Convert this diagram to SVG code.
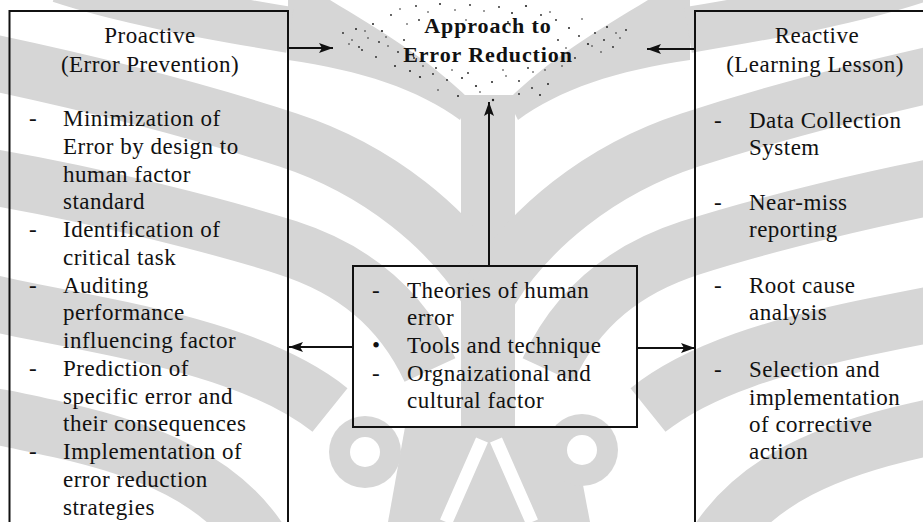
<svg xmlns="http://www.w3.org/2000/svg" xmlns:xlink="http://www.w3.org/1999/xlink" width="923" height="522" viewBox="0 0 923 522">
  <style>
    .wm { fill: none; stroke: #d6d6d6; stroke-linecap: butt; }
    .wmf { fill: #d6d6d6; }
    .gap { fill: none; stroke: #fff; stroke-linecap: butt; }
    .box { fill: none; stroke: #111; stroke-width: 2; }
    .edge { fill: none; stroke: #111; stroke-width: 2; }
    .t { font-family: "Liberation Serif", "Times New Roman", serif; font-size: 23px; fill: #111; letter-spacing: 0.5px; }
    .h { text-anchor: middle; }
    .title { font-family: "Liberation Serif", "Times New Roman", serif; font-size: 22px; font-weight: bold; fill: #111; letter-spacing: 0.9px; text-anchor: middle; }
    .speck { fill: #222; }
  </style>
  <defs>
    <marker id="head" viewBox="0 0 14 10" refX="14" refY="5" markerWidth="14" markerHeight="10" markerUnits="userSpaceOnUse" orient="auto">
      <path d="M0,0 L14,5 L0,10 L3,5 Z" fill="#111"/>
    </marker>
    <!-- one half of the background emblem; the other half is its mirror image -->
    <g id="fronds">
      <path class="wmf" d="M 288 0 L 330 0 C 380 30, 430 60, 470 100 L 460 120 C 420 90, 360 70, 288 60 Z"/>
      <path class="wm" stroke-width="46" d="M 290 30 C 200 15, 120 0, 60 -20"/>
      <path class="wm" stroke-width="56" d="M 487 290 C 450 230, 380 170, 288 140 S 100 85, -20 60"/>
      <path class="wm" stroke-width="56" d="M 430 370 C 400 305, 350 268, 288 248 S 100 195, -20 175"/>
      <path class="wm" stroke-width="56" d="M 330 410 C 280 370, 200 345, 100 325 S 20 310, -20 300"/>
      <path class="wm" stroke-width="56" d="M 260 540 C 220 480, 150 450, 60 430 S 10 420, -20 415"/>
    </g>
  </defs>

  <rect width="923" height="522" fill="#fff"/>

  <!-- faint background emblem -->
  <g id="watermark">
    <rect class="wmf" x="461" y="95" width="54" height="340"/>
    <use xlink:href="#fronds"/>
    <use xlink:href="#fronds" transform="matrix(-1 0 0 1 978 0)"/>
    <path class="wmf" d="M 405 427 L 572 427 L 590 522 L 388 522 Z"/>
    <path class="gap" stroke-width="13" d="M 482 440 L 446 522 M 496 440 L 532 522"/>
    <circle class="wmf" cx="365" cy="452" r="36"/>
    <circle class="wmf" cx="582" cy="450" r="36"/>
    <circle cx="365" cy="452" r="15" fill="#fff"/>
    <circle cx="582" cy="450" r="15" fill="#fff"/>
  </g>

  <!-- speckle around the central heading -->
  <g id="specks" class="speck">
    <circle cx="343" cy="33" r="0.9"/><circle cx="349" cy="44" r="0.8"/><circle cx="356" cy="29" r="1"/>
    <circle cx="362" cy="50" r="0.9"/><circle cx="368" cy="38" r="0.8"/><circle cx="373" cy="24" r="1"/>
    <circle cx="376" cy="57" r="0.9"/><circle cx="382" cy="31" r="1.1"/><circle cx="388" cy="46" r="0.8"/>
    <circle cx="391" cy="15" r="0.9"/><circle cx="395" cy="66" r="1"/><circle cx="400" cy="9" r="0.8"/>
    <circle cx="404" cy="40" r="0.9"/><circle cx="410" cy="71" r="1"/><circle cx="416" cy="6" r="0.9"/>
    <circle cx="420" cy="77" r="1.1"/><circle cx="428" cy="12" r="0.8"/><circle cx="433" cy="74" r="0.9"/>
    <circle cx="440" cy="4" r="1"/><circle cx="447" cy="80" r="0.9"/><circle cx="455" cy="10" r="0.8"/>
    <circle cx="462" cy="78" r="1"/><circle cx="470" cy="5" r="0.9"/><circle cx="476" cy="86" r="1.1"/>
    <circle cx="484" cy="11" r="0.8"/><circle cx="492" cy="82" r="1"/><circle cx="499" cy="7" r="0.9"/>
    <circle cx="506" cy="76" r="0.8"/><circle cx="512" cy="13" r="1"/><circle cx="519" cy="81" r="0.9"/>
    <circle cx="526" cy="6" r="1.1"/><circle cx="533" cy="72" r="0.8"/><circle cx="541" cy="15" r="0.9"/>
    <circle cx="548" cy="84" r="1"/><circle cx="556" cy="20" r="0.9"/><circle cx="562" cy="66" r="0.8"/>
    <circle cx="569" cy="28" r="1"/><circle cx="575" cy="58" r="0.9"/><circle cx="582" cy="19" r="0.8"/>
    <circle cx="588" cy="44" r="1.1"/><circle cx="595" cy="33" r="0.9"/><circle cx="601" cy="52" r="0.8"/>
    <circle cx="607" cy="27" r="1"/><circle cx="613" cy="47" r="0.9"/><circle cx="620" cy="38" r="0.8"/>
    <circle cx="626" cy="30" r="0.9"/><circle cx="458" cy="96" r="1"/><circle cx="493" cy="100" r="1.2"/>
    <circle cx="540" cy="95" r="1"/><circle cx="519" cy="94" r="0.9"/><circle cx="438" cy="90" r="0.8"/>
    <circle cx="352" cy="40" r="0.8"/><circle cx="359" cy="47" r="0.9"/><circle cx="365" cy="31" r="0.8"/>
    <circle cx="379" cy="42" r="0.9"/><circle cx="386" cy="37" r="0.8"/><circle cx="398" cy="52" r="0.9"/>
    <circle cx="407" cy="24" r="0.8"/><circle cx="414" cy="58" r="0.9"/><circle cx="423" cy="66" r="0.8"/>
    <circle cx="436" cy="68" r="0.9"/><circle cx="452" cy="70" r="0.8"/><circle cx="468" cy="73" r="0.9"/>
    <circle cx="503" cy="70" r="0.8"/><circle cx="528" cy="68" r="0.9"/><circle cx="545" cy="70" r="0.8"/>
    <circle cx="558" cy="40" r="0.9"/><circle cx="566" cy="48" r="0.8"/><circle cx="579" cy="36" r="0.9"/>
    <circle cx="592" cy="46" r="0.8"/><circle cx="604" cy="40" r="0.9"/><circle cx="616" cy="33" r="0.8"/>
    <circle cx="466" cy="20" r="0.8"/><circle cx="508" cy="22" r="0.9"/><circle cx="550" cy="12" r="0.8"/>
    <circle cx="419" cy="20" r="0.9"/><circle cx="480" cy="92" r="0.8"/><circle cx="532" cy="88" r="0.9"/>
  </g>

  <g id="connectors">
    <line class="edge" x1="289" y1="48" x2="333" y2="48" marker-end="url(#head)"/>
    <line class="edge" x1="695" y1="49" x2="647" y2="49" marker-end="url(#head)"/>
    <line class="edge" x1="489" y1="266" x2="489" y2="102" marker-end="url(#head)"/>
    <line class="edge" x1="353" y1="347" x2="289" y2="347" marker-end="url(#head)"/>
    <line class="edge" x1="637" y1="348" x2="695" y2="348" marker-end="url(#head)"/>
  </g>

  <g id="goal">
    <text class="title" x="488" y="33">Approach to</text>
    <text class="title" x="488" y="62">Error Reduction</text>
  </g>

  <g id="proactive">
    <path class="box" d="M 9.5 530 V 11 H 288 V 530"/>
    <text class="t h" x="150" y="43">Proactive</text>
    <text class="t h" x="150" y="72">(Error Prevention)</text>
    <text class="t" x="29" y="126">-</text>
    <text class="t" x="63" y="126">Minimization of</text>
    <text class="t" x="63" y="154">Error by design to</text>
    <text class="t" x="63" y="182">human factor</text>
    <text class="t" x="63" y="209">standard</text>
    <text class="t" x="29" y="237">-</text>
    <text class="t" x="63" y="237">Identification of</text>
    <text class="t" x="63" y="265">critical task</text>
    <text class="t" x="29" y="293">-</text>
    <text class="t" x="63" y="293">Auditing</text>
    <text class="t" x="63" y="320">performance</text>
    <text class="t" x="63" y="348">influencing factor</text>
    <text class="t" x="29" y="376">-</text>
    <text class="t" x="63" y="376">Prediction of</text>
    <text class="t" x="63" y="404">specific error and</text>
    <text class="t" x="63" y="431">their consequences</text>
    <text class="t" x="29" y="459">-</text>
    <text class="t" x="63" y="459">Implementation of</text>
    <text class="t" x="63" y="487">error reduction</text>
    <text class="t" x="63" y="515">strategies</text>
  </g>

  <g id="knowledge">
    <rect class="box" x="353" y="266" width="284" height="161"/>
    <text class="t" x="372" y="298">-</text>
    <text class="t" x="407" y="298">Theories of human</text>
    <text class="t" x="407" y="325">error</text>
    <text class="t" x="372" y="353">•</text>
    <text class="t" x="407" y="353">Tools and technique</text>
    <text class="t" x="372" y="381">-</text>
    <text class="t" x="407" y="381">Orgnaizational and</text>
    <text class="t" x="407" y="408">cultural factor</text>
  </g>

  <g id="reactive">
    <path class="box" d="M 695 530 V 11 H 930"/>
    <text class="t h" x="817" y="43">Reactive</text>
    <text class="t h" x="815" y="72">(Learning Lesson)</text>
    <text class="t" x="714" y="128">-</text>
    <text class="t" x="749" y="128">Data Collection</text>
    <text class="t" x="749" y="155">System</text>
    <text class="t" x="714" y="210">-</text>
    <text class="t" x="749" y="210">Near-miss</text>
    <text class="t" x="749" y="237">reporting</text>
    <text class="t" x="714" y="293">-</text>
    <text class="t" x="749" y="293">Root cause</text>
    <text class="t" x="749" y="320">analysis</text>
    <text class="t" x="714" y="377">-</text>
    <text class="t" x="749" y="377">Selection and</text>
    <text class="t" x="749" y="405">implementation</text>
    <text class="t" x="749" y="432">of corrective</text>
    <text class="t" x="749" y="459">action</text>
  </g>
</svg>
